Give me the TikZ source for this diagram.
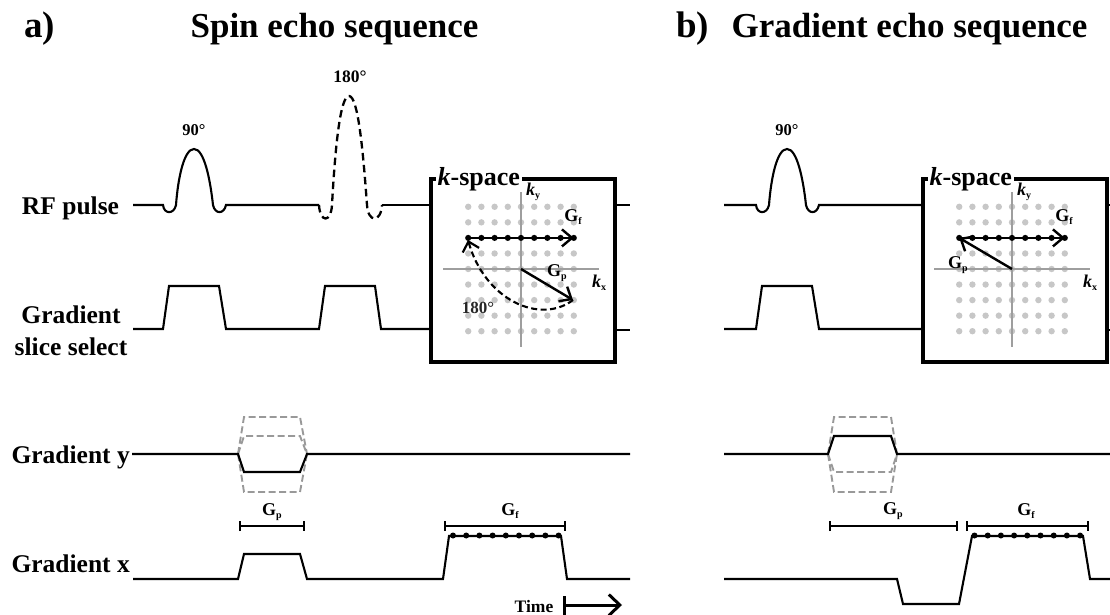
\documentclass[tikz,border=0pt]{standalone}
\usepackage{fontspec}
\setmainfont{Liberation Serif}
\usetikzlibrary{arrows.meta,calc}
\definecolor{dotgray}{gray}{0.78}
\definecolor{axgray}{gray}{0.62}
\definecolor{dashgray}{gray}{0.6}
\tikzset{
  wave/.style={line width=2.1pt,line join=miter},
  ghost/.style={line width=1.9pt,color=dashgray,dash pattern=on 7pt off 3.5pt},
  rflobe/.style={line width=2.3pt,dash pattern=on 7.5pt off 4.5pt},
  kbox/.style={draw,line width=4pt,fill=white,minimum width=184pt,minimum height=183pt,inner sep=0pt,anchor=north west},
  bracket/.style={line width=1.9pt,{Bar[width=10pt,length=1.9pt]}-{Bar[width=10pt,length=1.9pt]}},
  big/.style={font=\bfseries\fontsize{35}{37}\selectfont,inner sep=0pt,anchor=base},
  lab/.style={font=\bfseries\fontsize{25.5}{32}\selectfont,inner sep=0pt,anchor=base},
  small/.style={font=\bfseries\fontsize{16.5}{18}\selectfont,inner sep=0pt},
  ksp/.style={font=\bfseries\fontsize{26}{28}\selectfont,inner sep=1.5pt,fill=white},
  gs/.style={font=\bfseries\fontsize{18}{20}\selectfont,inner sep=0pt},
  arr/.style={line width=2.4pt,-{Straight Barb[length=10pt,width=17pt,line width=2.4pt]}},
  axis/.style={line width=1.6pt,color=axgray},
}
\newcommand{\Gsub}[1]{G\raisebox{-0.3ex}{\fontsize{10}{10}\selectfont #1}}
\newcommand{\Ksub}[1]{\textit{k}\raisebox{-0.4ex}{\fontsize{10}{10}\selectfont #1}}
\newcommand{\kspace}[3]{% tag, axis centre x, box left x
  \node[kbox] (box#1) at (#3,177) {};
  \coordinate (o#1) at (#2,269);
  \foreach \i in {-4,...,4}{\foreach \j in {-4,...,4}{
    \fill[dotgray] ($(o#1)+(13.2*\i,15.55*\j)$) circle (3.2pt);}}
  \draw[axis] ($(o#1)+(-78,0)$) -- ($(o#1)+(78,0)$);
  \draw[axis] ($(o#1)+(0,-77)$) -- ($(o#1)+(0,78)$);
  \coordinate (rs#1) at ($(o#1)+(-52.8,-31.1)$);
  \coordinate (re#1) at ($(o#1)+(52.8,-31.1)$);
  \draw[line width=2.4pt] (rs#1) -- (re#1);
  \foreach \i in {-4,...,4}{\fill ($(o#1)+(13.2*\i,-31.1)$) circle (3pt);}
  \draw[arr] ($(re#1)+(-2,0)$) -- (re#1);
  \node[gs] (gf#1) at ($(o#1)+(52,-52)$) {\Gsub{f}};
  \node[gs] (ky#1) at ($(o#1)+(12,-77)$) {\Ksub{y}};
  \node[gs] (kx#1) at ($(o#1)+(78,14)$) {\Ksub{x}};
}
\newcommand{\rfpulse}[1]{% offset
  (#1+163,205) .. controls (#1+164,214.5) and (#1+174,214.5) .. (#1+176,205)
  .. controls (#1+178,178) and (#1+184,149) .. (#1+194,149)
  .. controls (#1+204,149) and (#1+210,178) .. (#1+213,205)
  .. controls (#1+215,214.5) and (#1+224,214.5) .. (#1+226,205)}
\begin{document}
\begin{tikzpicture}[x=1pt,y=-1pt]
\useasboundingbox (0,0) rectangle (1110,615);
% headings
\node[big,font=\bfseries\fontsize{37}{39}\selectfont] (ta) at (39.5,38) {a)};
\node[big] (tsp) at (334.5,38) {Spin echo sequence};
\node[big,font=\bfseries\fontsize{37}{39}\selectfont] (tb) at (692.5,38) {b)};
\node[big] (tgr) at (909.5,38) {Gradient echo sequence};
% row labels
\node[lab] (l1) at (70.5,214) {RF pulse};
\node[lab] (l2a) at (71,323) {Gradient};
\node[lab] (l2b) at (71,355) {slice select};
\node[lab,anchor=base east] (l3) at (130,463) {Gradient y};
\node[lab,anchor=base east] (l4) at (130,572) {Gradient x};
% a) RF
\node[small] (n90a) at (194,130) {90°};
\node[small,font=\bfseries\fontsize{17.5}{19}\selectfont] (n180) at (350,77) {180°};
\draw[wave] (133,205) -- \rfpulse{0} -- (319,205);
\draw[rflobe] (319,205) .. controls (320,223) and (331,223) .. (332,205)
  .. controls (335,150) and (340,96) .. (349,96)
  .. controls (358,96) and (363,150) .. (367,205)
  .. controls (368,223) and (381,223) .. (382,205);
\draw[wave] (382,205) -- (429,205);
% a) slice
\draw[wave] (133,329) -- (163,329) -- (169,286) -- (219,286) -- (226,329) -- (319,329) -- (325,286) -- (375,286) -- (381,329) -- (429,329);
% a) Gy
\draw[ghost] (238,454) -- (244,417) -- (300,417) -- (307,454);
\draw[ghost] (238,454) -- (244,436) -- (300,436) -- (307,454);
\draw[ghost] (238,454) -- (244,492) -- (300,492) -- (307,454);
\draw[wave] (132,454) -- (238,454) -- (244,472) -- (300,472) -- (307,454) -- (630,454);
% a) Gx
\coordinate (bpa1) at (239,526); \coordinate (bpa2) at (305,526);
\draw[bracket] (bpa1) -- (bpa2);
\node[gs] (gpa) at (272,512) {\Gsub{p}};
\draw[wave] (133,579) -- (238,579) -- (244,554) -- (300,554) -- (307,579) -- (443,579) -- (449,536) -- (561,536) -- (567,579) -- (630,579);
\coordinate (bfa1) at (444,526); \coordinate (bfa2) at (566,526);
\draw[bracket] (bfa1) -- (bfa2);
\node[gs] (gfa) at (510,511) {\Gsub{f}};
\foreach \i in {0,...,8}{\fill (453+13.2*\i,535.5) circle (3pt);}
% time
\node[font=\bfseries\fontsize{17.5}{19}\selectfont,inner sep=0pt,anchor=base] (time) at (534,612) {Time};
\coordinate (t0) at (563,605); \coordinate (t1) at (622,605);
\draw[line width=3pt,{Bar[width=19pt,length=3pt]}-{Straight Barb[length=11pt,width=21pt,line width=3pt]}] (t0) -- (t1);
% a) k-space
\draw[wave] (613,205) -- (630,205);
\draw[wave] (613,330) -- (630,330);
\kspace{a}{521}{429}
\node[ksp,anchor=west] (ka) at (436,179) {\textit{k}-space};
\coordinate (ga1) at (573,300); \coordinate (ga2) at (468,240);
\draw[arr] (oa) -- (ga1);
\draw[line width=2.1pt,dash pattern=on 6pt off 3.5pt,-{Straight Barb[length=9pt,width=17pt,line width=2.2pt]}] (ga1) .. controls (540,325) and (485,300) .. (ga2);
\node[gs] (gpk) at (557,273) {\Gsub{p}};
\node[font=\bfseries\fontsize{17}{19}\selectfont,text=black!85,inner sep=0pt] (n180k) at (478,308) {180°};
% b) RF
\node[small] (n90b) at (787,130) {90°};
\draw[wave] (724,205) -- \rfpulse{593} -- (921,205);
\draw[wave] (724,329) -- (756,329) -- (762,286) -- (812,286) -- (819,329) -- (921,329);
% b) Gy
\draw[ghost] (828,454) -- (834,417) -- (891,417) -- (897,454);
\draw[ghost] (828,454) -- (834,472) -- (891,472) -- (897,454);
\draw[ghost] (828,454) -- (834,492) -- (891,492) -- (897,454);
\draw[wave] (724,454) -- (828,454) -- (834,436) -- (891,436) -- (897,454) -- (1110,454);
% b) Gx
\coordinate (bpb1) at (829,526); \coordinate (bpb2) at (958,526);
\draw[bracket] (bpb1) -- (bpb2);
\node[gs] (gpb) at (893,511) {\Gsub{p}};
\coordinate (bfb1) at (966,526); \coordinate (bfb2) at (1089,526);
\draw[bracket] (bfb1) -- (bfb2);
\node[gs] (gfb) at (1026,511) {\Gsub{f}};
\draw[wave] (724,579) -- (897,579) -- (903,604) -- (959,604) -- (972,536) -- (1083,536) -- (1090,579) -- (1110,579);
\foreach \i in {0,...,8}{\fill (974.5+13.2*\i,535.5) circle (3pt);}
% b) k-space
\draw[wave] (1103,205) -- (1110,205);
\draw[wave] (1103,330) -- (1110,330);
\kspace{b}{1012}{921}
\node[ksp,anchor=west] (kb) at (928,179) {\textit{k}-space};
\draw[arr] (ob) -- (rsb);
\node[gs] (gqk) at (958,265) {\Gsub{p}};
\end{tikzpicture}
\end{document}
